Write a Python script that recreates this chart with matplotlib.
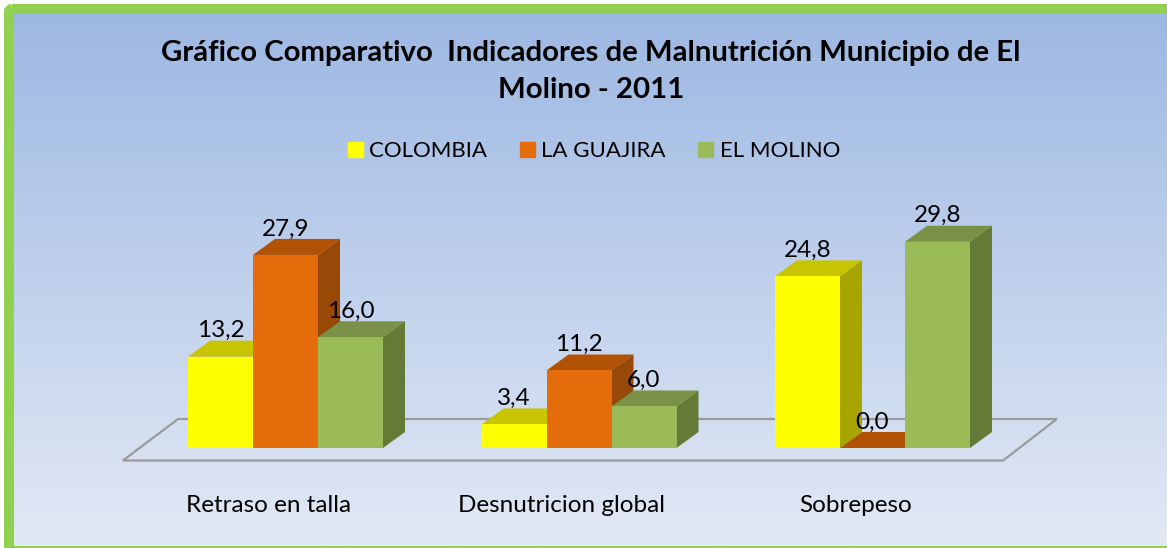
#import
import matplotlib
matplotlib.use("Agg")
import matplotlib.pyplot as plt
import numpy as np
from matplotlib.colors import LinearSegmentedColormap
from matplotlib.patches import FancyBboxPatch, Patch, Polygon, Rectangle

#-------------------------------------------------------------------------------

#data
title = "Gráfico Comparativo  Indicadores de Malnutrición Municipio de El\nMolino - 2011"
categories = ["Retraso en talla", "Desnutricion global", "Sobrepeso"]
series_names = ["COLOMBIA", "LA GUAJIRA", "EL MOLINO"]
colombia = [13.2, 3.4, 24.8]
guajira = [27.9, 11.2, 0.0]
molino = [16.0, 6.0, 29.8]

#-------------------------------------------------------------------------------

#parameters
W, H = 1167, 548
group_px = 293.5
value_px = 6.92
x0_px = 285.5
base_px = 448
bar_w = 65 / group_px
depth_x = 22 / group_px
depth_y = 16 / value_px

front = ["#FFFF00", "#E46C0A", "#9BBB59"]
top = ["#C8C400", "#B25205", "#7A9147"]
side = ["#A8A400", "#984807", "#667A38"]

plt.rcParams["font.family"] = ["Lato", "DejaVu Sans"]

fig = plt.figure(figsize=(W / 100, H / 100), dpi=100, facecolor="white")

#-------------------------------------------------------------------------------

#background
bg = fig.add_axes([0, 0, 1, 1], zorder=0)
bg.axis("off")
cmap = LinearSegmentedColormap.from_list("bg", ["#9DB8E3", "#E2E9F5"])
bg.imshow(np.linspace(0, 1, 256).reshape(-1, 1), cmap=cmap, extent=(14, W, 546, 14), aspect="auto")
bg.set_xlim(0, W)
bg.set_ylim(H, 0)
bg.add_patch(FancyBboxPatch((9, 9), W + 40, H + 40, boxstyle="round,pad=0,rounding_size=3",
                            fc="none", ec="#92D050", lw=7.2))
bg.add_patch(Rectangle((4, 546), W, 3, fc="#92D050", ec="none"))

#-------------------------------------------------------------------------------

#chart, full figure axes so the scales are px based
ax = fig.add_axes([0, 0, 1, 1], zorder=1)
ax.patch.set_alpha(0)
ax.set_xlim(-x0_px / group_px, (W - x0_px) / group_px)
ax.set_ylim(-(H - base_px) / value_px, base_px / value_px)
ax.axis("off")

#floor
fl = -12.5 / value_px
bk = 29 / value_px
floor = [(-0.554, fl), (2.445, fl), (2.628, bk), (-0.366, bk)]
ax.add_patch(Polygon(floor, closed=True, fc="none", ec="#9A9A9A", lw=1.6, zorder=1))

#bars
x = np.arange(len(categories))
z = 2
for i, vals in enumerate([colombia, guajira, molino]):
    for j, v in enumerate(vals):
        left = x[j] + (i - 1.5) * bar_w
        right = left + bar_w
        ax.add_patch(Polygon([(left, v), (right, v), (right + depth_x, v + depth_y), (left + depth_x, v + depth_y)],
                             closed=True, fc=top[i], ec="none", zorder=z + 10 * j))
        ax.add_patch(Polygon([(right, 0), (right + depth_x, depth_y), (right + depth_x, v + depth_y), (right, v)],
                             closed=True, fc=side[i], ec="none", zorder=z + 10 * j))
        ax.bar(x[j] + (i - 1) * bar_w, v, bar_w, color=front[i], zorder=z + 10 * j + 1)
        ax.text(x[j] + (i - 1) * bar_w, v + 26 / value_px, f"{v:.1f}".replace(".", ","),
                ha="center", va="center", fontsize=17.5, color="black", zorder=100)
    z += 2

#category labels
for j, name in enumerate(categories):
    ax.text(x[j] - 17 / group_px, -57 / value_px, name, ha="center", va="center", fontsize=17.5, color="black")

#-------------------------------------------------------------------------------

#title and legend
fig.text(591 / W, 1 - 71.5 / H, title, ha="center", va="center", fontsize=21.2, fontweight="bold",
         linespacing=1.55, color="black")

handles = [Patch(color=c, label=n) for c, n in zip(front, series_names)]
leg = ax.legend(handles=handles, ncol=3, loc="center", bbox_to_anchor=(594 / W, 1 - 151 / H),
                frameon=False, fontsize=16, handlelength=0.68, handleheight=0.68, handletextpad=0.3,
                columnspacing=1.45, labelcolor="black")

plt.savefig("out.png", dpi=100)
